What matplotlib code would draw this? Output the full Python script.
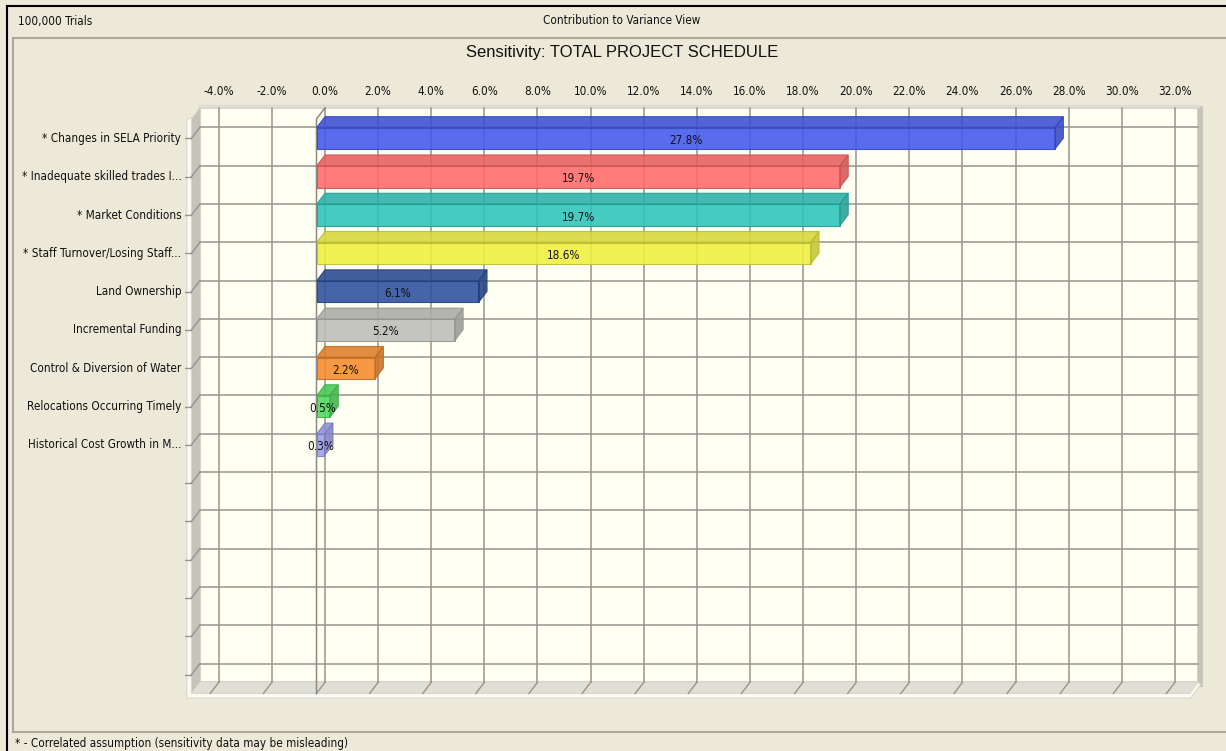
import matplotlib.pyplot as plt
from matplotlib.patches import Polygon, Rectangle
from matplotlib.lines import Line2D
from matplotlib import font_manager
import numpy as np

# data
labels = ['* Changes in SELA Priority', '* Inadequate skilled trades I...', '* Market Conditions',
          '* Staff Turnover/Losing Staff...', 'Land Ownership', 'Incremental Funding',
          'Control & Diversion of Water', 'Relocations Occurring Timely', 'Historical Cost Growth in M...']
values = [27.8, 19.7, 19.7, 18.6, 6.1, 5.2, 2.2, 0.5, 0.3]
colors = ['#4258ee', '#ff6a6a', '#2cc4bb', '#f0f040', '#2c509f', '#bdbdb8', '#f58a2c', '#4edc5c', '#9ca0f2']
ticks = np.arange(-4, 34, 2)
n_slots = 15

# narrow small font if one is around, else a smaller regular sans
names = {f.name for f in font_manager.fontManager.ttflist}
cond = font_manager.findfont(font_manager.FontProperties(family='DejaVu Sans', stretch='condensed'))
if 'Liberation Sans Narrow' in names:
    small = dict(family='Liberation Sans Narrow', fontsize=9)
elif 'Condensed' in cond:
    small = dict(family='DejaVu Sans', fontstretch='condensed', fontsize=8.4)
else:
    small = dict(family='Liberation Sans', fontsize=8.3)

W, H = 1226, 751
BG = '#ece9d8'
WALL = '#fffff2'
GRID = '#959590'
INK = '#111111'

fig = plt.figure(figsize=(W / 100, H / 100), dpi=100, facecolor=BG)

# pixel layout of the front plane
px_per_pct, px_zero = 26.56, 316.5
px_per_cat, px_cat0 = 38.3, 138.5
ax = fig.add_axes([185 / W, 1 - 702 / H, (1205 - 185) / W, (702 - 100) / H])
ax.set_xlim((185 - px_zero) / px_per_pct, (1205 - px_zero) / px_per_pct)
ax.set_ylim((702 - px_cat0) / px_per_cat, (100 - px_cat0) / px_per_cat)
ax.axis('off')

X0, X1 = -4.71, 32.87
Y0, Y1 = -0.51, n_slots - 0.51
DX, DY = 0.32, 0.29

# back wall
ax.add_patch(Rectangle((X0 + DX, Y0 - DY), X1 - X0, Y1 - Y0, facecolor=WALL,
                       edgecolor='#d4d4cc', lw=1.5, zorder=1))
ax.plot([X1 + DX + 0.08] * 2, [Y0 - DY, Y1 - DY + 0.05], color='#c4c4bc', lw=3.5, zorder=1)
ax.plot([X0 + DX, X1 + DX], [Y0 - DY - 0.05] * 2, color='#dcdcd4', lw=2.5, zorder=1)

# left wall and floor
ax.add_patch(Polygon([(X0, Y0), (X0 + DX, Y0 - DY), (X0 + DX, Y1 - DY), (X0, Y1)],
                     facecolor='#c4c4ba', edgecolor='none', zorder=1))
ax.add_patch(Polygon([(X0, Y1), (X1, Y1), (X1 + DX, Y1 - DY), (X0 + DX, Y1 - DY)],
                     facecolor='#dfdfd5', edgecolor='none', zorder=1))
ax.add_patch(Polygon([(X0 - 0.17, Y0 + 0.02), (X0, Y0 - 0.04), (X0, Y1), (X1, Y1),
                      (X1 + DX, Y1 - DY), (X1 + DX + 0.1, Y1 - DY + 0.05),
                      (X1 + 0.05, Y1 + 0.12), (X0 - 0.17, Y1 + 0.12)],
                     facecolor='#fbfbf3', edgecolor='#d8d8d0', lw=0.8, zorder=1))

# grid
for t in ticks:
    ax.plot([t + DX, t + DX], [Y0 - DY, Y1 - DY], color=GRID, lw=1.1, zorder=2)
    ax.plot([t + DX, t], [Y1 - DY, Y1], color=GRID, lw=1.0, zorder=2)
    ax.text(t + DX, (92 - px_cat0) / px_per_cat, f'{t:.1f}%', ha='center', va='center',
            color=INK, **small)
for c in range(n_slots):
    ax.plot([X0 + DX, X1 + DX], [c - DY, c - DY], color=GRID, lw=1.1, zorder=2)
    ax.plot([X0, X0 + DX], [c, c - DY], color=GRID, lw=1.0, zorder=2)
    ax.plot([X0 - 0.25, X0], [c, c], color=GRID, lw=1.0, zorder=2)

# zero baseline on the front plane
ax.plot([DX, 0, 0], [Y0 - DY, Y0, Y1], color='#8a8a86', lw=1.1, zorder=2)

# bars
h = 0.28
for i, (v, col) in enumerate(zip(values, colors)):
    rgb = np.array(plt.matplotlib.colors.to_rgb(col))
    top = rgb * 0.9
    side = rgb * 0.82
    edge = rgb * 0.78
    ax.add_patch(Rectangle((0, i - h), v, 2 * h, facecolor=col, edgecolor=edge,
                           lw=0.8, alpha=0.88, zorder=3))
    ax.add_patch(Polygon([(0, i - h), (v, i - h), (v + DX, i - h - DY), (DX, i - h - DY)],
                         facecolor=top, edgecolor=edge, lw=0.8, alpha=0.88, zorder=3))
    ax.add_patch(Polygon([(v, i - h), (v, i + h), (v + DX, i + h - DY), (v + DX, i - h - DY)],
                         facecolor=side, edgecolor=edge, lw=0.8, alpha=0.88, zorder=3))
    ax.text(v / 2, i + 0.05, f'{v:.1f}%', ha='center', va='center', color=INK,
            zorder=4, **small)
    ax.text(X0 - 0.38, i, labels[i], ha='right', va='center', color=INK, **small)

# frame and header
fig.add_artist(Line2D([7 / W, 7 / W], [0, 1 - 6 / H], color='black', lw=1.5))
fig.add_artist(Line2D([7 / W, 1], [1 - 6 / H, 1 - 6 / H], color='black', lw=1.5))
fig.add_artist(Line2D([13 / W, 1], [1 - 38 / H] * 2, color='#aca899', lw=1.5))
fig.add_artist(Line2D([13 / W, 13 / W], [1 - 38 / H, 1 - 732 / H], color='#aca899', lw=1.5))
fig.add_artist(Line2D([13 / W, 1], [1 - 732 / H] * 2, color='#aca899', lw=1.5))

fig.text(18 / W, 1 - 22 / H, '100,000 Trials', ha='left', va='center', color=INK, **small)
fig.text(622 / W, 1 - 21 / H, 'Contribution to Variance View', ha='center', va='center',
         color=INK, **small)
fig.text(622 / W, 1 - 52 / H, 'Sensitivity: TOTAL PROJECT SCHEDULE', ha='center', va='center',
         fontsize=12, family='Liberation Sans', color=INK)
fig.text(15 / W, 1 - 743 / H, '* - Correlated assumption (sensitivity data may be misleading)',
         ha='left', va='center', color=INK, **small)

fig.savefig('out.png', dpi=100, facecolor=BG)
